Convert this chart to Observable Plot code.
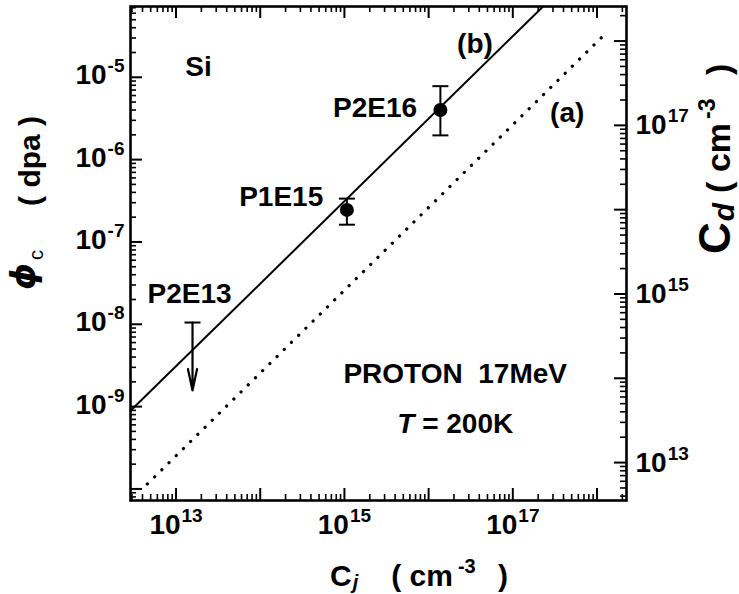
<!DOCTYPE html>
<html><head><meta charset="utf-8">
<script src="https://cdn.jsdelivr.net/npm/d3@7"></script>
<script src="https://cdn.jsdelivr.net/npm/@observablehq/plot@0.6"></script>
<style>body{margin:0;background:#fff;} svg text{white-space:pre}</style>
</head><body><div id="chart"></div>
<script>
// ---- data ----
const xDomain = [2.88e12, 2.24e18];      // Cj (cm^-3)
const yDomain = [7.24e-11, 7.24e-5];     // phi_c (dpa)
const cdDomain = [3.55e12, 2.57e18];     // Cd (cm^-3), right axis
const xLabelExps = [13, 15, 17];
const yLabelExps = [-9, -8, -7, -6, -5];
const cdLabelExps = [13, 15, 17];

const lineB = [{cj: 2.88e12, phi: 8.9e-10}, {cj: 2.29e17, phi: 7.24e-5}];
const lineA = [{cj: 4.57e12, phi: 1.15e-10}, {cj: 1.32e18, phi: 3.55e-5}];

const points = [
  {label: "P1E15", cj: 1.07e15, phi: 2.45e-7, lo: 1.62e-7, hi: 3.36e-7},
  {label: "P2E16", cj: 1.38e16, phi: 4.0e-6, lo: 1.97e-6, hi: 7.8e-6}
];
const limitPoints = [{label: "P2E13", cj: 1.57e13, hi: 1.05e-8, lo: 1.57e-9}];

const labelsStart = [
  {text: "Si", cj: 1.29e13, phi: 1.05e-5},
  {text: "(b)", cj: 2.18e16, phi: 2.0e-5},
  {text: "(a)", cj: 2.77e17, phi: 2.9e-6},
  {text: "P2E13", cj: 4.6e12, phi: 1.79e-8},
  {text: "T = 200K", cj: 4.24e15, phi: 4.72e-10}
];
const labelsEnd = [
  {text: "P2E16", cj: 7.3e15, phi: 3.25e-6},
  {text: "P1E15", cj: 5.6e14, phi: 2.77e-7},
  {text: "PROTON\u00a0\u00a017MeV", cj: 4.4e17, phi: 1.91e-9}
];

// ---- layout ----
const W = 739, H = 594, mL = 130, mR = 113, mT = 6, mB = 94;
const FW = W - mL - mR, FH = H - mT - mB;
const FONT = "Liberation Sans, Arial, Helvetica, sans-serif";

// map Cd onto the phi scale (right axis)
const L = Math.log10;
const cdToPhi = cd => 10 ** (L(yDomain[0]) + (L(cd) - L(cdDomain[0])) * (L(yDomain[1]) - L(yDomain[0])) / (L(cdDomain[1]) - L(cdDomain[0])));

function logTicks([lo, hi]) {
  const major = [], minor = [];
  for (let n = Math.floor(L(lo)); n <= Math.ceil(L(hi)); n++) {
    for (let k = 1; k <= 9; k++) {
      const v = k * 10 ** n;
      if (v < lo || v > hi) continue;
      (k === 1 ? major : minor).push(v);
    }
  }
  return {major, minor};
}
const xt = logTicks(xDomain), yt = logTicks(yDomain), ct = logTicks(cdDomain);
const cdMajor = ct.major.map(cdToPhi), cdMinor = ct.minor.map(cdToPhi);

const capSymbol = {draw(ctx, size) { const r = Math.sqrt(size / Math.PI); ctx.moveTo(-r, 0); ctx.lineTo(r, 0); }};
const caps = points.flatMap(p => [{cj: p.cj, phi: p.hi}, {cj: p.cj, phi: p.lo}])
  .concat(limitPoints.map(p => ({cj: p.cj, phi: p.hi})));

const MAJ = 12, MIN = 6, TF = 28;
const plot = Plot.plot({
  width: W, height: H,
  marginLeft: mL, marginRight: mR, marginTop: mT, marginBottom: mB,
  style: {fontFamily: FONT, fontWeight: "bold", background: "#fff", color: "#000"},
  x: {type: "log", domain: xDomain, axis: null},
  y: {type: "log", domain: yDomain, axis: null},
  marks: [
    // inward ticks
    Plot.tickX(xt.major, {x: d => d, insetTop: FH - MAJ, strokeWidth: 2}),
    Plot.tickX(xt.minor, {x: d => d, insetTop: FH - MIN, strokeWidth: 1.6}),
    Plot.tickX(xt.major, {x: d => d, insetBottom: FH - MAJ, strokeWidth: 2}),
    Plot.tickX(xt.minor, {x: d => d, insetBottom: FH - MIN, strokeWidth: 1.6}),
    Plot.tickY(yt.major, {y: d => d, insetRight: FW - MAJ, strokeWidth: 2}),
    Plot.tickY(yt.minor, {y: d => d, insetRight: FW - MIN, strokeWidth: 1.6}),
    Plot.tickY(cdMajor, {y: d => d, insetLeft: FW - MAJ, strokeWidth: 2}),
    Plot.tickY(cdMinor, {y: d => d, insetLeft: FW - MIN, strokeWidth: 1.6}),
    // tick labels
    Plot.text(xLabelExps, {x: e => 10 ** e, text: e => "10^" + e, frameAnchor: "bottom", lineAnchor: "top", dy: 14, fontSize: TF, fontWeight: "bold"}),
    Plot.text(yLabelExps, {y: e => 10 ** e, text: e => "10^" + e, frameAnchor: "left", textAnchor: "end", dx: -6, dy: -2, fontSize: TF, fontWeight: "bold"}),
    Plot.text(cdLabelExps, {y: e => cdToPhi(10 ** e), text: e => "10^" + e, frameAnchor: "right", textAnchor: "start", dx: 9, dy: 0, fontSize: TF, fontWeight: "bold"}),
    // lines
    Plot.line(lineA, {x: "cj", y: "phi", stroke: "#000", strokeWidth: 3.2, strokeDasharray: "0.1,10", strokeLinecap: "round"}),
    Plot.line(lineB, {x: "cj", y: "phi", stroke: "#000", strokeWidth: 2}),
    // error bars & points
    Plot.ruleX(points, {x: "cj", y1: "lo", y2: "hi", strokeWidth: 2}),
    Plot.dot(caps, {x: "cj", y: "phi", symbol: capSymbol, r: 8, stroke: "#000", strokeWidth: 2, fill: "none"}),
    Plot.dot(points, {x: "cj", y: "phi", r: 7, fill: "#000", stroke: "none"}),
    Plot.arrow(limitPoints, {x1: "cj", x2: "cj", y1: "hi", y2: "lo", headAngle: 24, headLength: 15, strokeWidth: 2.2, stroke: "#000"}),
    // annotations
    Plot.text(labelsStart, {x: "cj", y: "phi", text: "text", textAnchor: "start", lineAnchor: "bottom", fontSize: 28, fontWeight: "bold"}),
    Plot.text(labelsEnd, {x: "cj", y: "phi", text: "text", textAnchor: "end", lineAnchor: "bottom", fontSize: 28, fontWeight: "bold"}),
    Plot.frame({stroke: "#000", strokeWidth: 2.6})
  ]
});
document.getElementById("chart").appendChild(plot);

// ---- rich text post-processing ----
const NS = "http://www.w3.org/2000/svg";
plot.querySelectorAll("text").forEach(t => {
  const s = t.textContent;
  const m = s.match(/^10\^(-?\d+)$/);
  if (m) {
    t.textContent = "10";
    const ts = document.createElementNS(NS, "tspan");
    ts.setAttribute("dy", "-12"); ts.setAttribute("font-size", "19"); ts.setAttribute("dx", "1");
    ts.textContent = m[1];
    t.appendChild(ts);
  } else if (s === "T = 200K") {
    t.textContent = "";
    const a = document.createElementNS(NS, "tspan"); a.setAttribute("font-style", "italic"); a.textContent = "T";
    const b = document.createElementNS(NS, "tspan"); b.textContent = " = 200K";
    t.appendChild(a); t.appendChild(b);
  }
});

function rich(x, y, rotate, parts) {
  const t = d3.select(plot).append("text")
    .attr("transform", `translate(${x},${y}) rotate(${rotate})`)
    .attr("text-anchor", "start")
    .attr("font-family", FONT).attr("fill", "#000");
  let cur = 0;
  for (const p of parts) {
    const ts = t.append("tspan").text(p.t).attr("font-size", p.size)
      .attr("font-weight", p.weight || "bold").attr("font-style", p.italic ? "italic" : "normal");
    if (p.family) ts.attr("font-family", p.family);
    const sh = p.shift || 0;
    if (sh !== cur) ts.attr("dy", sh - cur);
    cur = sh;
    if (p.dx) ts.attr("dx", p.dx);
  }
}
// left title: phi_c ( dpa )
rich(40, 290, -90, [
  {t: "\u03d5", size: 34, italic: true, shift: -5, family: "DejaVu Sans"},
  {t: "c", size: 20, weight: "normal", shift: 3, dx: 3},
  {t: "( dpa )", size: 30, shift: 0, dx: 44}
]);
// bottom title: Cj ( cm^-3 )
rich(330, 586, 0, [
  {t: "C", size: 30},
  {t: "j", size: 20, italic: true, shift: 3, dx: 1},
  {t: "( cm", size: 30, shift: 0, dx: 33},
  {t: "-3", size: 20, shift: -13, dx: 5},
  {t: " )", size: 30, shift: 0, dx: 14}
]);
// right title: Cd ( cm^-3 )
rich(730, 254, -90, [
  {t: "C", size: 44},
  {t: "d", size: 30, italic: true, shift: 4, dx: 1},
  {t: "( cm", size: 34, shift: 0, dx: 10},
  {t: "-3", size: 23, shift: -15, dx: 4},
  {t: " )", size: 34, shift: 0, dx: 14}
]);
</script>
</body></html>
